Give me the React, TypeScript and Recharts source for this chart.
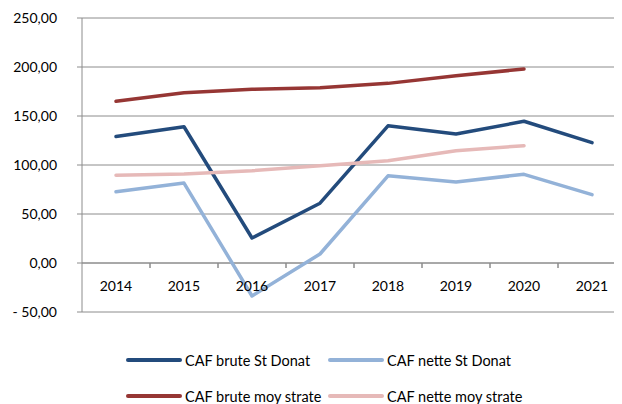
import React from 'react';
import { LineChart, Line, XAxis, YAxis, CartesianGrid, Legend } from 'recharts';

const years = ['2014', '2015', '2016', '2017', '2018', '2019', '2020', '2021'];
const cafBruteStDonat = [129, 139, 25.5, 61, 140, 131.6, 144.6, 122.8];
const cafNetteStDonat = [72.8, 81.6, -33.7, 9.2, 89, 82.7, 90.5, 69.7];
const cafBruteMoyStrate = [165, 173.8, 177.2, 178.9, 183.3, 191, 198, null];
const cafNetteMoyStrate = [89.5, 90.8, 94.2, 99.3, 104.4, 114.6, 119.7, null];
const yTicks = [-50, 0, 50, 100, 150, 200, 250];

const series = [
  { key: 'bruteStDonat', name: 'CAF brute St Donat', color: '#234B7C', values: cafBruteStDonat },
  { key: 'netteStDonat', name: 'CAF nette St Donat', color: '#93B2D8', values: cafNetteStDonat },
  { key: 'bruteMoy', name: 'CAF brute moy strate', color: '#963634', values: cafBruteMoyStrate },
  { key: 'netteMoy', name: 'CAF nette moy strate', color: '#E6B9B8', values: cafNetteMoyStrate },
];

const data = years.map((y, i) => {
  const row: any = { year: y };
  series.forEach((s) => {
    row[s.key] = s.values[i];
  });
  return row;
});

const FONT = 'Lato, "Open Sans", sans-serif';
const CHART_W = 618;
const CHART_H = 396;
const PLOT_LEFT = 74;
const PLOT_TOP = 10;
const PLOT_H = 294;
const PLOT_W = CHART_W - PLOT_LEFT;
const BAND = PLOT_W / years.length;
const ZERO_Y = PLOT_TOP + (PLOT_H * 250) / 300;
const GRID = '#8C8C8C';
const X_AXIS_H = 20;
const LEGEND_H = CHART_H - PLOT_TOP - PLOT_H - X_AXIS_H;

const fmt = (v: number) => {
  const s = Math.abs(v).toFixed(2).replace('.', ',');
  return v < 0 ? '- ' + s : s;
};

const XTick = (props: any) => {
  const { x, payload, index } = props;
  return (
    <g>
      <text
        x={x}
        y={ZERO_Y + 22}
        textAnchor="middle"
        dominantBaseline="central"
        fontFamily={FONT}
        fontSize={14}
        fill="#000"
      >
        {payload.value}
      </text>
      {index > 0 && (
        <line x1={x - BAND / 2} x2={x - BAND / 2} y1={ZERO_Y} y2={ZERO_Y + 5} stroke={GRID} strokeWidth={1} />
      )}
      <line x1={x + BAND / 2} x2={x + BAND / 2} y1={ZERO_Y} y2={ZERO_Y + 5} stroke={GRID} strokeWidth={1} />
    </g>
  );
};

const LegendContent = () => (
  <div style={{ position: 'relative', height: LEGEND_H, fontFamily: FONT, fontSize: 14.5, color: '#000' }}>
    {series.map((s, i) => {
      const col = i % 2;
      const row = Math.floor(i / 2);
      return (
        <div
          key={s.key}
          style={{
            position: 'absolute',
            left: 118 + col * 202,
            top: 48 - X_AXIS_H + row * 36 - 10,
            height: 20,
            display: 'flex',
            alignItems: 'center',
            whiteSpace: 'nowrap',
          }}
        >
          <svg width={56} height={8} style={{ marginRight: 3 }}>
            <line x1={2} x2={54} y1={4} y2={4} stroke={s.color} strokeWidth={4} strokeLinecap="round" />
          </svg>
          <span>{s.name}</span>
        </div>
      );
    })}
  </div>
);

export default function App() {
  return (
    <div style={{ width: 614, height: CHART_H, overflow: 'hidden' }}>
      <LineChart
        width={CHART_W}
        height={CHART_H}
        data={data}
        margin={{ top: PLOT_TOP, right: 0, left: 0, bottom: 0 }}
      >
        <CartesianGrid vertical={false} stroke={GRID} strokeWidth={1} />
        <XAxis
          dataKey="year"
          axisLine={false}
          tickLine={false}
          height={X_AXIS_H}
          tick={XTick}
          interval={0}
          padding={{ left: BAND / 2, right: BAND / 2 }}
        />
        <YAxis
          width={PLOT_LEFT}
          domain={[-50, 250]}
          ticks={yTicks}
          tickFormatter={fmt}
          axisLine={{ stroke: GRID }}
          tickLine={{ stroke: GRID }}
          tickSize={5}
          tickMargin={20}
          tick={{ fontFamily: FONT, fontSize: 14, fill: '#000' }}
          interval={0}
        />
        <line x1={PLOT_LEFT} x2={CHART_W} y1={ZERO_Y} y2={ZERO_Y} stroke={GRID} strokeWidth={1} />
        {series.map((s) => (
          <Line
            key={s.key}
            type="linear"
            dataKey={s.key}
            name={s.name}
            stroke={s.color}
            strokeWidth={3.5}
            strokeLinecap="round"
            strokeLinejoin="round"
            dot={false}
            activeDot={false}
            isAnimationActive={false}
            connectNulls={false}
          />
        ))}
        <Legend verticalAlign="bottom" height={LEGEND_H} content={<LegendContent />} />
      </LineChart>
    </div>
  );
}
